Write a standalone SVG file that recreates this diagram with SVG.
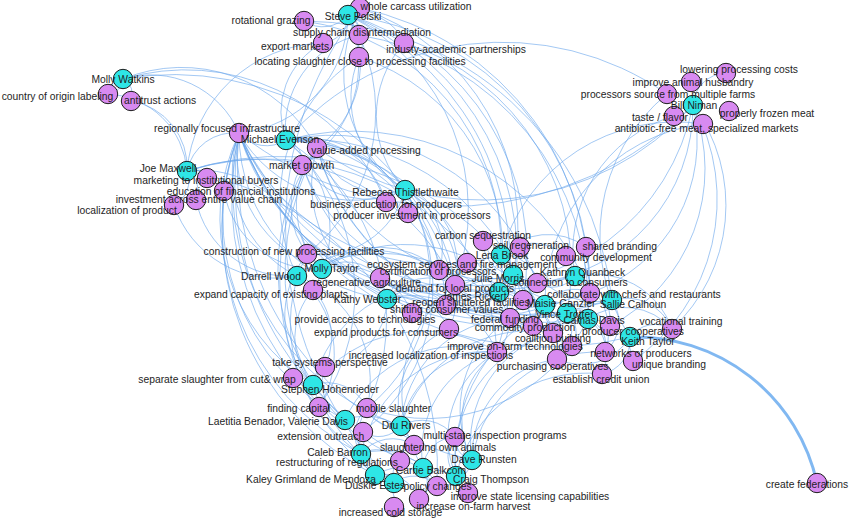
<svg xmlns="http://www.w3.org/2000/svg" width="850" height="519" viewBox="0 0 850 519">
<style>
.bg{fill:#fff}
#edges path{fill:none;stroke:#6aa7ec;stroke-opacity:.62;stroke-width:1}
#edges path.thick{stroke:#7ab4f0;stroke-opacity:.95;stroke-width:3}
.node circle{stroke:#1c1c1c;stroke-width:1;r:9.7}
.p circle{fill:#2ee6e6}
.t circle{fill:#d88af1}
#labels text{font-family:"Liberation Sans",Arial,sans-serif;font-size:10.3px;fill:#1e1e1e;text-anchor:middle}
</style>
<rect class="bg" width="850" height="519"/>
<g id="edges">
<path d="M348 15A33 33 0 0 1 304 21"/><path d="M348 15A28 28 0 0 1 323 43"/><path d="M348 15A47 47 0 0 1 404 43"/><path d="M348 15A33 33 0 0 1 359 57"/><path d="M348 15A17 17 0 0 1 359 35"/>
<path d="M348 15A120 120 0 0 1 239 133"/><path d="M348 15A103 103 0 0 1 317 148"/><path d="M348 15A182 182 0 0 1 307 254"/><path d="M348 15A218 218 0 0 1 455 285"/><path d="M348 15A277 277 0 0 1 590 293"/><path d="M348 15A251 251 0 0 1 523 300"/><path d="M348 15A258 258 0 0 1 510 318"/><path d="M348 15A276 276 0 0 1 497 352"/><path d="M348 15A118 118 0 0 1 302 165"/>
<path d="M286 140A96 96 0 0 1 359 35"/><path d="M359 35A274 274 0 0 1 588 319"/><path d="M286 140A78 78 0 0 1 323 43"/><path d="M187 171A140 140 0 0 1 323 43"/><path d="M404 43A236 236 0 0 1 567 313"/><path d="M405 190A110 110 0 0 1 404 43"/><path d="M359 57A205 205 0 0 1 499 292"/><path d="M405 190A106 106 0 0 1 359 57"/><path d="M297 276A171 171 0 0 1 359 57"/><path d="M360 8A289 289 0 0 1 588 319"/><path d="M405 190A141 141 0 0 1 360 8"/><path d="M360 8A231 231 0 0 1 513 275"/><path d="M394 483A357 357 0 0 1 360 8"/><path d="M304 21A229 229 0 0 1 501 255"/><path d="M304 21A312 312 0 0 1 612 300"/>
<path d="M123 79A16 16 0 0 1 108 94"/><path d="M123 79A17 17 0 0 1 131 101"/><path d="M123 79A96 96 0 0 1 239 133"/><path d="M123 79A218 218 0 0 1 386 202"/><path d="M123 79A154 154 0 0 1 317 148"/><path d="M123 79A293 293 0 0 1 455 285"/>
<path d="M131 101A67 67 0 0 1 187 171"/><path d="M108 94A83 83 0 0 1 187 171"/><path d="M187 171A16 16 0 0 1 207 178"/><path d="M187 171A32 32 0 0 1 224 191"/><path d="M187 171A23 23 0 0 1 196 200"/><path d="M187 171A27 27 0 0 1 174 205"/><path d="M187 171A48 48 0 0 1 239 133"/><path d="M187 171A218 218 0 0 1 455 285"/><path d="M187 171A110 110 0 0 1 307 254"/><path d="M187 171A266 266 0 0 1 510 318"/><path d="M187 171A302 302 0 0 1 437 486"/><path d="M187 171A300 300 0 0 1 553 333"/>
<path d="M286 140A36 36 0 0 1 239 133"/><path d="M286 140A24 24 0 0 1 317 148"/><path d="M286 140A22 22 0 0 1 302 165"/><path d="M286 140A88 88 0 0 1 386 202"/><path d="M286 140A107 107 0 0 1 408 213"/><path d="M286 140A150 150 0 0 1 439 270"/><path d="M286 140A167 167 0 0 1 455 285"/><path d="M286 140A114 114 0 0 1 313 290"/><path d="M286 140A172 172 0 0 1 446 305"/><path d="M286 140A217 217 0 0 1 537 283"/><path d="M286 140A255 255 0 0 1 590 293"/><path d="M286 140A288 288 0 0 1 667 94"/><path d="M286 140A232 232 0 0 1 533 326"/><path d="M286 140A224 224 0 0 1 497 352"/><path d="M286 140A210 210 0 0 1 367 408"/><path d="M286 140A202 202 0 0 1 319 407"/>
<path d="M405 190A73 73 0 0 1 317 148"/><path d="M405 190A80 80 0 0 1 302 165"/><path d="M405 190A88 88 0 0 1 307 254"/><path d="M405 190A65 65 0 0 1 439 270"/><path d="M405 190A80 80 0 0 1 455 285"/><path d="M405 190A109 109 0 0 1 449 329"/><path d="M405 190A166 166 0 0 1 367 408"/><path d="M405 190A184 184 0 0 1 363 432"/><path d="M405 190A132 132 0 0 1 239 133"/>
<path d="M693 105A34 34 0 0 1 726 73"/><path d="M693 105A178 178 0 0 1 537 283"/><path d="M693 105A161 161 0 0 1 590 293"/><path d="M693 105A177 177 0 0 1 610 326"/><path d="M693 105A197 197 0 0 1 633 361"/><path d="M693 105A169 169 0 0 1 672 329"/><path d="M693 105A341 341 0 0 1 239 133"/><path d="M693 105A224 224 0 0 1 455 285"/><path d="M693 105A284 284 0 0 1 317 148"/>
<path d="M501 255A181 181 0 0 1 703 124"/><path d="M545 305A180 180 0 0 1 703 124"/><path d="M575 276A141 141 0 0 1 674 116"/><path d="M630 337A184 184 0 0 1 667 94"/>
<path d="M501 255A92 92 0 0 1 380 278"/><path d="M501 255A41 41 0 0 1 455 285"/><path d="M501 255A64 64 0 0 1 586 247"/><path d="M501 255A49 49 0 0 1 566 256"/><path d="M501 255A34 34 0 0 1 537 283"/><path d="M501 255A217 217 0 0 1 239 133"/>
<path d="M575 276A46 46 0 0 1 610 326"/><path d="M575 276A61 61 0 0 1 605 352"/><path d="M575 276A274 274 0 0 1 239 133"/><path d="M575 276A216 216 0 0 1 317 148"/><path d="M575 276A83 83 0 0 1 672 329"/><path d="M575 276A29 29 0 0 1 537 283"/>
<path d="M513 275A36 36 0 0 1 467 263"/><path d="M513 275A34 34 0 0 1 483 241"/><path d="M513 275A44 44 0 0 1 455 285"/><path d="M513 275A100 100 0 0 1 380 278"/><path d="M513 275A32 32 0 0 1 510 318"/><path d="M513 275A41 41 0 0 1 533 326"/><path d="M513 275A178 178 0 0 1 302 165"/>
<path d="M297 276A116 116 0 0 1 239 133"/><path d="M297 276A107 107 0 0 1 174 205"/><path d="M297 276A95 95 0 0 1 196 200"/><path d="M297 276A71 71 0 0 1 325 367"/><path d="M297 276A100 100 0 0 1 319 407"/><path d="M297 276A163 163 0 0 1 510 318"/><path d="M297 276A119 119 0 0 1 455 285"/><path d="M297 276A112 112 0 0 1 367 408"/>
<path d="M322 269A44 44 0 0 1 380 278"/><path d="M322 269A120 120 0 0 1 239 133"/><path d="M322 269A94 94 0 0 1 224 191"/><path d="M322 269A80 80 0 0 1 302 165"/><path d="M322 269A91 91 0 0 1 317 148"/><path d="M322 269A88 88 0 0 1 439 270"/><path d="M322 269A75 75 0 0 1 412 313"/><path d="M322 269A153 153 0 0 1 523 300"/>
<path d="M499 292A41 41 0 0 1 446 305"/><path d="M499 292A36 36 0 0 1 533 326"/><path d="M499 292A229 229 0 0 1 239 133"/><path d="M499 292A45 45 0 0 1 497 352"/><path d="M499 292A51 51 0 0 1 553 333"/><path d="M499 292A34 34 0 0 1 455 285"/>
<path d="M387 299A44 44 0 0 1 446 305"/><path d="M387 299A52 52 0 0 1 449 329"/><path d="M387 299A52 52 0 0 1 455 285"/><path d="M387 299A167 167 0 0 1 239 133"/><path d="M387 299A45 45 0 0 1 439 270"/><path d="M387 299A92 92 0 0 1 497 352"/><path d="M387 299A69 69 0 0 1 325 367"/><path d="M387 299A125 125 0 0 1 317 148"/>
<path d="M545 305A35 35 0 0 1 590 293"/><path d="M545 305A69 69 0 0 1 455 285"/><path d="M545 305A263 263 0 0 1 239 133"/><path d="M545 305A41 41 0 0 1 557 359"/>
<path d="M612 300A80 80 0 0 1 520 247"/><path d="M612 300A44 44 0 0 1 586 247"/><path d="M612 300A50 50 0 0 1 672 329"/><path d="M612 300A306 306 0 0 1 239 133"/><path d="M612 300A106 106 0 0 1 483 241"/><path d="M612 300A39 39 0 0 1 605 352"/>
<path d="M567 313A27 27 0 0 1 533 326"/><path d="M567 313A43 43 0 0 1 510 318"/><path d="M567 313A35 35 0 0 1 557 359"/><path d="M567 313A34 34 0 0 1 610 326"/><path d="M567 313A281 281 0 0 1 239 133"/><path d="M567 313A225 225 0 0 1 317 148"/><path d="M567 313A228 228 0 0 1 302 165"/><path d="M567 313A25 25 0 0 1 572 346"/>
<path d="M588 319A28 28 0 0 1 605 352"/><path d="M588 319A46 46 0 0 1 633 361"/><path d="M588 319A43 43 0 0 1 602 374"/><path d="M588 319A63 63 0 0 1 672 329"/><path d="M588 319A240 240 0 0 1 317 148"/><path d="M588 319A297 297 0 0 1 239 133"/><path d="M588 319A179 179 0 0 1 367 408"/>
<path d="M630 337A32 32 0 0 1 672 329"/><path d="M630 337A35 35 0 0 1 602 374"/><path d="M630 337A57 57 0 0 1 557 359"/><path d="M630 337A331 331 0 0 1 239 133"/>
<path d="M313 385A197 197 0 0 1 239 133"/><path d="M313 385A44 44 0 0 1 367 408"/><path d="M313 385A98 98 0 0 1 307 254"/><path d="M313 385A71 71 0 0 1 313 290"/><path d="M313 385A140 140 0 0 1 497 352"/><path d="M313 385A130 130 0 0 1 455 285"/>
<path d="M345 420A229 229 0 0 1 239 133"/><path d="M345 420A42 42 0 0 1 325 367"/><path d="M345 420A55 55 0 0 1 414 445"/><path d="M345 420A125 125 0 0 1 497 352"/><path d="M345 420A205 205 0 0 1 317 148"/>
<path d="M401 426A29 29 0 0 1 367 408"/><path d="M401 426A41 41 0 0 1 455 437"/><path d="M401 426A91 91 0 0 1 497 352"/><path d="M401 426A251 251 0 0 1 239 133"/><path d="M401 426A81 81 0 0 1 449 329"/><path d="M401 426A115 115 0 0 1 510 318"/><path d="M401 426A134 134 0 0 1 553 333"/><path d="M401 426A29 29 0 0 1 363 432"/>
<path d="M361 454A30 30 0 0 1 400 461"/><path d="M361 454A35 35 0 0 1 367 408"/><path d="M361 454A40 40 0 0 1 414 445"/><path d="M361 454A257 257 0 0 1 239 133"/><path d="M361 454A128 128 0 0 1 497 352"/><path d="M361 454A62 62 0 0 1 437 486"/><path d="M361 454A155 155 0 0 1 307 254"/>
<path d="M472 460A83 83 0 0 1 497 352"/><path d="M472 460A33 33 0 0 1 437 486"/><path d="M472 460A301 301 0 0 1 239 133"/><path d="M472 460A113 113 0 0 1 553 333"/><path d="M472 460A110 110 0 0 1 510 318"/><path d="M472 460A99 99 0 0 1 557 359"/><path d="M472 460A128 128 0 0 1 605 352"/><path d="M472 460A22 22 0 0 1 455 437"/>
<path d="M423 468A33 33 0 0 1 455 437"/><path d="M423 468A23 23 0 0 1 419 499"/><path d="M423 468A287 287 0 0 1 239 133"/><path d="M423 468A103 103 0 0 1 497 352"/><path d="M423 468A139 139 0 0 1 455 285"/>
<path d="M375 475A47 47 0 0 1 437 486"/><path d="M375 475A38 38 0 0 1 419 499"/><path d="M375 475A51 51 0 0 1 367 408"/><path d="M375 475A33 33 0 0 1 363 432"/><path d="M375 475A276 276 0 0 1 239 133"/><path d="M375 475A249 249 0 0 1 317 148"/><path d="M375 475A28 28 0 0 1 394 507"/>
<path d="M456 476A29 29 0 0 1 455 437"/><path d="M456 476A98 98 0 0 1 497 352"/><path d="M456 476A304 304 0 0 1 239 133"/><path d="M456 476A130 130 0 0 1 553 333"/><path d="M456 476A134 134 0 0 1 602 374"/><path d="M456 476A170 170 0 0 1 590 293"/>
<path d="M394 483A32 32 0 0 1 437 486"/><path d="M394 483A32 32 0 0 1 414 445"/><path d="M394 483A258 258 0 0 1 317 148"/>
<path class="thick" d="M630 337A186 186 0 0 1 817 483"/>
</g>
<g id="nodes">
<g id="n-whole-carcass" class="node t"><circle cx="360" cy="8"/></g>
<g id="n-rotational-grazing" class="node t"><circle cx="304" cy="21"/></g>
<g id="n-supply-chain" class="node t"><circle cx="359" cy="35"/></g>
<g id="n-export-markets" class="node t"><circle cx="323" cy="43"/></g>
<g id="n-industy-academic" class="node t"><circle cx="404" cy="43"/></g>
<g id="n-locating-slaughter" class="node t"><circle cx="359" cy="57"/></g>
<g id="n-steve-polski" class="node p"><circle cx="348" cy="15"/></g>
<g id="n-country-origin" class="node t"><circle cx="108" cy="94"/></g>
<g id="n-antitrust" class="node t"><circle cx="131" cy="101"/></g>
<g id="n-molly-watkins" class="node p"><circle cx="123" cy="79"/></g>
<g id="n-lowering-costs" class="node t"><circle cx="726" cy="73"/></g>
<g id="n-animal-husbandry" class="node t"><circle cx="691" cy="82"/></g>
<g id="n-processors-source" class="node t"><circle cx="667" cy="94"/></g>
<g id="n-frozen-meat" class="node t"><circle cx="729" cy="111"/></g>
<g id="n-taste-flavor" class="node t"><circle cx="674" cy="116"/></g>
<g id="n-antibiotic-free" class="node t"><circle cx="703" cy="124"/></g>
<g id="n-bill-niman" class="node p"><circle cx="693" cy="105"/></g>
<g id="n-regional-infra" class="node t"><circle cx="239" cy="133"/></g>
<g id="n-value-added" class="node t"><circle cx="317" cy="148"/></g>
<g id="n-market-growth" class="node t"><circle cx="302" cy="165"/></g>
<g id="n-michael-evenson" class="node p"><circle cx="286" cy="140"/></g>
<g id="n-marketing-institutional" class="node t"><circle cx="207" cy="178"/></g>
<g id="n-education-financial" class="node t"><circle cx="224" cy="191"/></g>
<g id="n-investment-value-chain" class="node t"><circle cx="196" cy="200"/></g>
<g id="n-localization-product" class="node t"><circle cx="174" cy="205"/></g>
<g id="n-joe-maxwell" class="node p"><circle cx="187" cy="171"/></g>
<g id="n-business-education" class="node t"><circle cx="386" cy="202"/></g>
<g id="n-producer-investment" class="node t"><circle cx="408" cy="213"/></g>
<g id="n-rebecca-thistlethwaite" class="node p"><circle cx="405" cy="190"/></g>
<g id="n-carbon-sequestration" class="node t"><circle cx="483" cy="241"/></g>
<g id="n-soil-regeneration" class="node t"><circle cx="520" cy="247"/></g>
<g id="n-shared-branding" class="node t"><circle cx="586" cy="247"/></g>
<g id="n-community-development" class="node t"><circle cx="566" cy="256"/></g>
<g id="n-lena-brook" class="node p"><circle cx="501" cy="255"/></g>
<g id="n-construction-new" class="node t"><circle cx="307" cy="254"/></g>
<g id="n-ecosystem-services" class="node t"><circle cx="467" cy="263"/></g>
<g id="n-certification" class="node t"><circle cx="439" cy="270"/></g>
<g id="n-connection-consumers" class="node t"><circle cx="537" cy="283"/></g>
<g id="n-kathryn-quanbeck" class="node p"><circle cx="575" cy="276"/></g>
<g id="n-julie-morris" class="node p"><circle cx="513" cy="275"/></g>
<g id="n-regenerative-agriculture" class="node t"><circle cx="380" cy="278"/></g>
<g id="n-expand-capacity" class="node t"><circle cx="313" cy="290"/></g>
<g id="n-darrell-wood" class="node p"><circle cx="297" cy="276"/></g>
<g id="n-molly-taylor" class="node p"><circle cx="322" cy="269"/></g>
<g id="n-demand-local" class="node t"><circle cx="455" cy="285"/></g>
<g id="n-collaborate-chefs" class="node t"><circle cx="590" cy="293"/></g>
<g id="n-james-rickert" class="node p"><circle cx="499" cy="292"/></g>
<g id="n-kathy-webster" class="node p"><circle cx="387" cy="299"/></g>
<g id="n-reopen-shuttered" class="node t"><circle cx="523" cy="300"/></g>
<g id="n-shifting-values" class="node t"><circle cx="446" cy="305"/></g>
<g id="n-provide-access" class="node t"><circle cx="412" cy="313"/></g>
<g id="n-maisie-ganzler" class="node p"><circle cx="545" cy="305"/></g>
<g id="n-sallie-calhoun" class="node p"><circle cx="612" cy="300"/></g>
<g id="n-federal-funding" class="node t"><circle cx="510" cy="318"/></g>
<g id="n-vince-trotter" class="node p"><circle cx="567" cy="313"/></g>
<g id="n-vocational-training" class="node t"><circle cx="672" cy="329"/></g>
<g id="n-expand-products" class="node t"><circle cx="449" cy="329"/></g>
<g id="n-commodity-production" class="node t"><circle cx="533" cy="326"/></g>
<g id="n-producer-cooperatives" class="node t"><circle cx="610" cy="326"/></g>
<g id="n-camas-davis" class="node p"><circle cx="588" cy="319"/></g>
<g id="n-coalition-building" class="node t"><circle cx="553" cy="333"/></g>
<g id="n-on-farm-tech" class="node t"><circle cx="572" cy="346"/></g>
<g id="n-networks-producers" class="node t"><circle cx="605" cy="352"/></g>
<g id="n-keith-taylor" class="node p"><circle cx="630" cy="337"/></g>
<g id="n-localization-inspections" class="node t"><circle cx="497" cy="352"/></g>
<g id="n-unique-branding" class="node t"><circle cx="633" cy="361"/></g>
<g id="n-purchasing-cooperatives" class="node t"><circle cx="557" cy="359"/></g>
<g id="n-establish-credit" class="node t"><circle cx="602" cy="374"/></g>
<g id="n-systems-perspective" class="node t"><circle cx="325" cy="367"/></g>
<g id="n-separate-slaughter" class="node t"><circle cx="293" cy="378"/></g>
<g id="n-stephen-hohenrieder" class="node p"><circle cx="313" cy="385"/></g>
<g id="n-finding-capital" class="node t"><circle cx="319" cy="407"/></g>
<g id="n-mobile-slaughter" class="node t"><circle cx="367" cy="408"/></g>
<g id="n-benador-davis" class="node p"><circle cx="345" cy="420"/></g>
<g id="n-extension-outreach" class="node t"><circle cx="363" cy="432"/></g>
<g id="n-dru-rivers" class="node p"><circle cx="401" cy="426"/></g>
<g id="n-multi-state" class="node t"><circle cx="455" cy="437"/></g>
<g id="n-slaughtering-own" class="node t"><circle cx="414" cy="445"/></g>
<g id="n-caleb-barron" class="node p"><circle cx="361" cy="454"/></g>
<g id="n-restructuring" class="node t"><circle cx="400" cy="461"/></g>
<g id="n-dave-runsten" class="node p"><circle cx="472" cy="460"/></g>
<g id="n-carrie-balkcom" class="node p"><circle cx="423" cy="468"/></g>
<g id="n-kaley-grimland" class="node p"><circle cx="375" cy="475"/></g>
<g id="n-craig-thompson" class="node p"><circle cx="456" cy="476"/></g>
<g id="n-policy-changes" class="node t"><circle cx="437" cy="486"/></g>
<g id="n-duskie-estes" class="node p"><circle cx="394" cy="483"/></g>
<g id="n-state-licensing" class="node t"><circle cx="468" cy="493"/></g>
<g id="n-on-farm-harvest" class="node t"><circle cx="419" cy="499"/></g>
<g id="n-cold-storage" class="node t"><circle cx="394" cy="507"/></g>
<g id="n-create-federations" class="node t"><circle cx="817" cy="483"/></g>
</g>
<g id="labels">
<text x="416" y="9.5">whole carcass utilization</text>
<text x="271" y="23.5">rotational grazing</text>
<text x="362" y="36">supply chain disintermediation</text>
<text x="295" y="50">export markets</text>
<text x="456" y="52.5">industy-academic partnerships</text>
<text x="360" y="64.5">locating slaughter close to processing facilities</text>
<text x="353" y="20">Steve Polski</text>
<text x="57.5" y="99.5">country of origin labeling</text>
<text x="160" y="103.5">antitrust actions</text>
<text x="123" y="83">Molly Watkins</text>
<text x="739" y="73">lowering processing costs</text>
<text x="693" y="86">improve animal husbandry</text>
<text x="668" y="98">processors source from multiple farms</text>
<text x="767" y="117">properly frozen meat</text>
<text x="660" y="121">taste / flavor</text>
<text x="706.5" y="132">antibiotic-free meat, specialized markets</text>
<text x="694" y="109">Bill Niman</text>
<text x="227" y="131.5">regionally focused infrastructure</text>
<text x="366" y="153.5">value-added processing</text>
<text x="301.5" y="169">market growth</text>
<text x="280" y="142.5">Michael Evenson</text>
<text x="206" y="183.5">marketing to institutional buyers</text>
<text x="241" y="194.5">education of financial institutions</text>
<text x="199" y="203">investment across entire value chain</text>
<text x="127" y="213.5">localization of product</text>
<text x="168" y="171.5">Joe Maxwell</text>
<text x="386" y="207.5">business education for producers</text>
<text x="412" y="218.5">producer investment in processors</text>
<text x="405.5" y="195.5">Rebecca Thistlethwaite</text>
<text x="483" y="239">carbon sequestration</text>
<text x="531" y="248.5">soil regeneration</text>
<text x="619.7" y="250">shared branding</text>
<text x="596" y="261">community development</text>
<text x="502" y="258.5">Lena Brook</text>
<text x="294" y="255">construction of new processing facilities</text>
<text x="462" y="267.5">ecosystem services and fire management</text>
<text x="438" y="275">certification of processors</text>
<text x="570.5" y="286">connection to consumers</text>
<text x="582.5" y="276">Kathryn Quanbeck</text>
<text x="498" y="282">Julie Morris</text>
<text x="367" y="285.5">regenerative agriculture</text>
<text x="271" y="297.5">expand capacity of existing plants</text>
<text x="271" y="280">Darrell Wood</text>
<text x="331.7" y="272">Molly Taylor</text>
<text x="455" y="292">demand for local products</text>
<text x="634" y="297.5">collaborate with chefs and restaurants</text>
<text x="474" y="300">James Rickert</text>
<text x="367.5" y="303">Kathy Webster</text>
<text x="471" y="306">reopen shuttered facilities</text>
<text x="446.7" y="313">shifting consumer values</text>
<text x="365" y="323">provide access to technologies</text>
<text x="561" y="307">Maisie Ganzler</text>
<text x="633" y="307.5">Sallie Calhoun</text>
<text x="505" y="323">federal funding</text>
<text x="564.5" y="318">Vince Trotter</text>
<text x="681" y="324.5">vocational training</text>
<text x="386" y="336">expand products for consumers</text>
<text x="525" y="331">commodity production</text>
<text x="633" y="334.5">producer cooperatives</text>
<text x="594" y="323.5">Camas Davis</text>
<text x="553" y="342">coalition building</text>
<text x="515" y="350">improve on-farm technologies</text>
<text x="641" y="357">networks of producers</text>
<text x="648" y="344.5">Keith Taylor</text>
<text x="431" y="358.5">increased localization of inspections</text>
<text x="669" y="367.5">unique branding</text>
<text x="552.5" y="370">purchasing cooperatives</text>
<text x="601" y="382.5">establish credit union</text>
<text x="330" y="366">take systems perspective</text>
<text x="217" y="383">separate slaughter from cut&amp; wrap</text>
<text x="330" y="393">Stephen Hohenrieder</text>
<text x="298.7" y="412">finding capital</text>
<text x="393.5" y="412">mobile slaughter</text>
<text x="278" y="425">Laetitia Benador, Valerie Davis</text>
<text x="320.7" y="439.5">extension outreach</text>
<text x="406" y="428.5">Dru Rivers</text>
<text x="495" y="438.5">multi-state inspection programs</text>
<text x="438" y="451">slaughtering own animals</text>
<text x="337.5" y="456">Caleb Barron</text>
<text x="337" y="466">restructuring of regulations</text>
<text x="484" y="462.5">Dave Runsten</text>
<text x="431" y="474">Carrie Balkcom</text>
<text x="311" y="482.5">Kaley Grimland de Mendoza</text>
<text x="491" y="482.5">Craig Thompson</text>
<text x="437.5" y="489.5">policy changes</text>
<text x="375" y="488.5">Duskie Estes</text>
<text x="530" y="500">improve state licensing capabilities</text>
<text x="473.5" y="509.5">increase on-farm harvest</text>
<text x="390.5" y="516">increased cold storage</text>
<text x="807" y="488">create federations</text>
</g>
</svg>
